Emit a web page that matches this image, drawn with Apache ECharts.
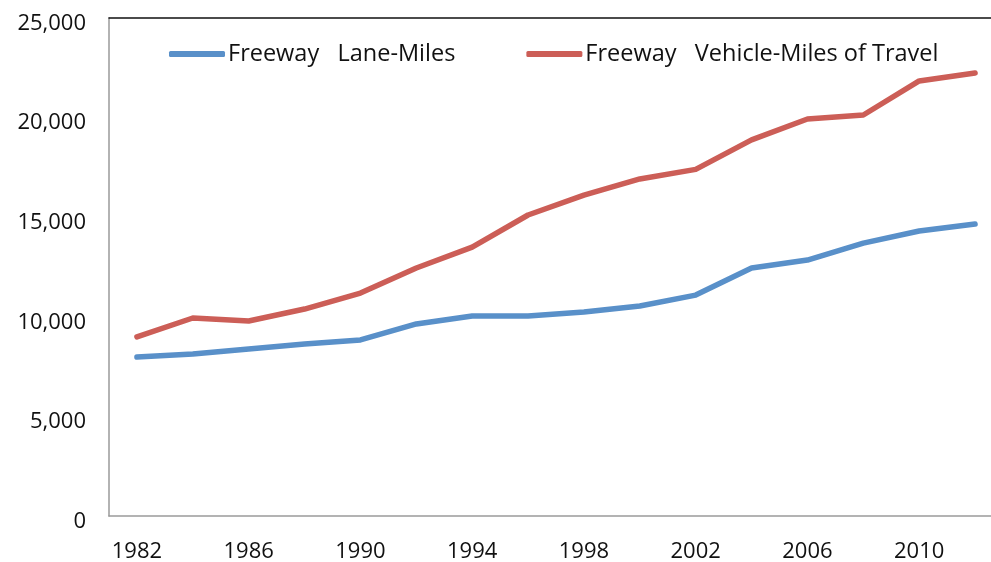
<!DOCTYPE html>
<html>
<head>
<meta charset="utf-8">
<script src="https://cdn.jsdelivr.net/npm/echarts@6/dist/echarts.min.js"></script>
<style>
  html, body { margin: 0; padding: 0; background: #ffffff; }
  #chart { width: 991px; height: 562px; }
</style>
</head>
<body>
<div id="chart"></div>
<script>
// Years on the category axis (every two years)
const years = ['1982','1984','1986','1988','1990','1992','1994','1996','1998','2000','2002','2004','2006','2008','2010','2012'];

// Freeway lane-miles
const laneMiles = [7980, 8130, 8380, 8630, 8840, 9640, 10040, 10040, 10240, 10540, 11090, 12450, 12850, 13700, 14310, 14660];

// Freeway vehicle-miles of travel
const vehicleMiles = [8990, 9940, 9790, 10390, 11190, 12450, 13500, 15110, 16110, 16920, 17400, 18880, 19930, 20130, 21840, 22240];

const seriesNames = ['Freeway   Lane-Miles', 'Freeway   Vehicle-Miles of Travel'];
const seriesColors = ['#5990c9', '#cc5e57'];

const fontFamily = '"Open Sans", "Noto Sans", sans-serif';

const chart = echarts.init(document.getElementById('chart'), null, { renderer: 'canvas' });

const lineSeries = [laneMiles, vehicleMiles].map((values, i) => ({
  name: seriesNames[i],
  type: 'line',
  data: values,
  symbol: 'none',
  smooth: false,
  color: seriesColors[i],
  lineStyle: { width: 5.5, color: seriesColors[i], cap: 'round', join: 'round' },
  emphasis: { disabled: true }
}));

chart.setOption({
  animation: false,
  backgroundColor: '#ffffff',
  grid: { left: 109, top: 18, width: 894, height: 498, containLabel: false, outerBoundsMode: 'none' },
  legend: {
    left: 164,
    top: 37,
    itemWidth: 56,
    itemHeight: 6,
    itemGap: 71,
    icon: 'roundRect',
    textStyle: { fontFamily: fontFamily, fontSize: 23.5, color: '#111111', padding: [0, 0, 0, -2] },
    data: seriesNames.map((n, i) => ({ name: n, itemStyle: { color: seriesColors[i] } }))
  },
  xAxis: [{
    type: 'category',
    data: years,
    boundaryGap: true,
    axisLine: { show: true, lineStyle: { color: '#9a9a9a', width: 1.5 } },
    axisTick: { show: false },
    axisLabel: {
      interval: 1,
      margin: 25,
      fontFamily: fontFamily,
      fontSize: 22,
      color: '#111111'
    },
    splitLine: { show: false }
  }, {
    type: 'category',
    data: years,
    position: 'top',
    boundaryGap: true,
    axisLine: { show: true, lineStyle: { color: '#111111', width: 1.5 } },
    axisTick: { show: false },
    axisLabel: { show: false },
    splitLine: { show: false }
  }],
  yAxis: {
    type: 'value',
    min: 0,
    max: 25000,
    interval: 5000,
    axisLine: { show: true, lineStyle: { color: '#9a9a9a', width: 1.5 } },
    axisTick: { show: false },
    splitLine: { show: false },
    axisLabel: {
      margin: 23,
      fontFamily: fontFamily,
      fontSize: 22,
      color: '#111111',
      verticalAlign: 'top',
      lineHeight: 11,
      formatter: v => v.toLocaleString('en-US')
    }
  },
  series: lineSeries
});
</script>
</body>
</html>
